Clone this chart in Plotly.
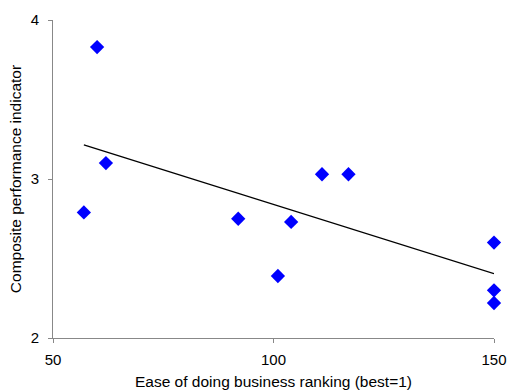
import numpy as np
import plotly.graph_objects as go

# Ease of doing business ranking vs composite performance indicator
ranking = [60, 62, 57, 92, 101, 104, 111, 117, 150, 150, 150]
indicator = [3.83, 3.10, 2.79, 2.75, 2.39, 2.73, 3.03, 3.03, 2.60, 2.30, 2.22]

x_ticks = [50, 100, 150]
y_ticks = [2, 3, 4]

# linear trend over the data span
slope, intercept = np.polyfit(ranking, indicator, 1)
trend_x = [min(ranking), max(ranking)]
trend_y = [slope * v + intercept for v in trend_x]

fig = go.Figure()

fig.add_trace(
    go.Scatter(
        x=trend_x,
        y=trend_y,
        mode="lines",
        line=dict(color="black", width=1.3),
        hoverinfo="skip",
    )
)

fig.add_trace(
    go.Scatter(
        x=ranking,
        y=indicator,
        mode="markers",
        marker=dict(symbol="diamond", color="#0000FF", size=11, line_width=0),
        cliponaxis=False,
    )
)

axis_font = dict(family="Arial, Liberation Sans, sans-serif", size=15, color="black")

fig.update_layout(
    width=508,
    height=390,
    margin=dict(l=53, r=14, t=20, b=52),
    paper_bgcolor="white",
    plot_bgcolor="white",
    showlegend=False,
    font=dict(family="Arial, Liberation Sans, sans-serif", color="black"),
    xaxis=dict(
        range=[50, 150],
        tickvals=x_ticks,
        showgrid=False,
        zeroline=False,
        showline=True,
        linecolor="#888888",
        linewidth=1,
        ticks="outside",
        ticklen=4,
        tickcolor="#888888",
        tickfont=axis_font,
        ticklabelstandoff=4,
        automargin=False,
        title=dict(text="Ease of doing business ranking (best=1)",
                   font=dict(size=15.5), standoff=10),
    ),
    yaxis=dict(
        range=[2, 4],
        tickvals=y_ticks,
        showgrid=False,
        zeroline=False,
        showline=True,
        linecolor="#888888",
        linewidth=1,
        ticks="outside",
        ticklen=4,
        tickcolor="#888888",
        tickfont=axis_font,
        ticklabelstandoff=6,
        automargin=False,
        title=dict(text="Composite performance indicator",
                   font=dict(size=15.5), standoff=5),
    ),
)

# drop the default page margin so the figure sits at the window's corner
fig.write_html(
    "out.html",
    config={"displayModeBar": False},
    post_script="document.body.style.margin='0';",
)
